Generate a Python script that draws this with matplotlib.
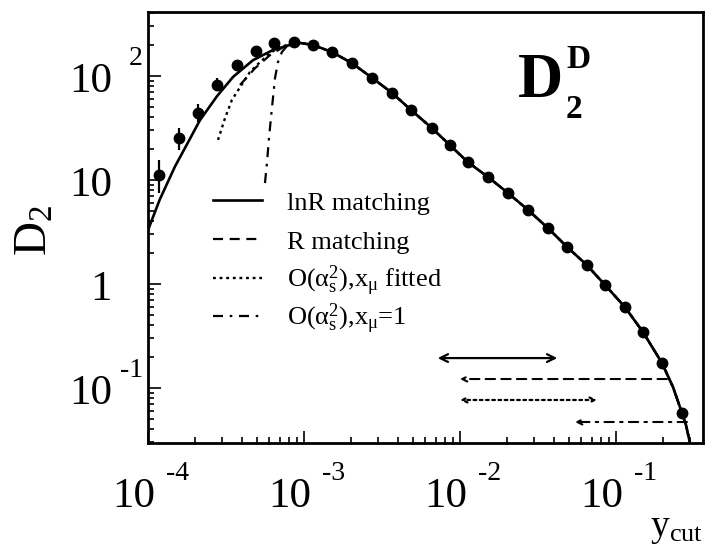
import numpy as np
import matplotlib
matplotlib.use("Agg")
import matplotlib.pyplot as plt
import matplotlib.transforms as mtransforms
from matplotlib.legend import Legend

plt.rcParams['font.family'] = ['Liberation Serif', 'DejaVu Serif']
plt.rcParams['mathtext.fontset'] = 'custom'
plt.rcParams['mathtext.rm'] = 'Liberation Serif'
plt.rcParams['mathtext.it'] = 'Liberation Serif:italic'
plt.rcParams['mathtext.bf'] = 'Liberation Serif:bold'

# ---------------- data ----------------
data_x = [1.17e-4, 1.58e-4, 2.09e-4, 2.77e-4, 3.7e-4, 4.9e-4, 6.4e-4, 8.6e-4,
          1.14e-3, 1.51e-3, 2.03e-3, 2.73e-3, 3.66e-3, 4.86e-3, 6.6e-3, 8.6e-3,
          1.12e-2, 1.51e-2, 2.03e-2, 2.73e-2, 3.66e-2, 4.86e-2, 6.5e-2, 8.5e-2,
          0.114, 0.149, 0.197, 0.265]
data_y = [11.2, 25.3, 44.0, 82.0, 128.0, 174.0, 207.0, 212.0,
          199.0, 170.0, 133.0, 96.0, 69.0, 47.0, 31.6, 21.7,
          14.9, 10.7, 7.5, 5.15, 3.45, 2.27, 1.52, 0.98,
          0.60, 0.345, 0.174, 0.0575]
data_ylo = [7.5, 19.4, 36.0, 71.0, 115.0, 165.0, 200.0, 206.0,
            194.0, 166.0, 130.0, 94.0, 67.5, 46.0, 31.0, 21.3,
            14.6, 10.5, 7.35, 5.05, 3.38, 2.22, 1.49, 0.96,
            0.59, 0.338, 0.170, 0.056]
data_yhi = [15.5, 31.6, 54.0, 95.0, 141.0, 183.0, 214.0, 218.0,
            204.0, 174.0, 136.0, 98.0, 70.5, 48.0, 32.2, 22.1,
            15.2, 10.9, 7.65, 5.25, 3.52, 2.32, 1.55, 1.0,
            0.61, 0.352, 0.178, 0.059]

# common high-ycut part of all predictions
tail_x = [9.4e-4, 1.14e-3, 1.51e-3, 2.03e-3, 2.73e-3, 3.66e-3, 4.86e-3, 6.6e-3,
          8.6e-3, 1.12e-2, 1.51e-2, 2.03e-2, 2.73e-2, 3.66e-2, 4.86e-2, 6.5e-2,
          8.5e-2, 0.114, 0.149, 0.197, 0.232, 0.265, 0.281, 0.298]
tail_y = [208.0, 199.0, 170.0, 133.0, 96.0, 69.0, 47.0, 31.6,
          21.7, 14.9, 10.7, 7.5, 5.15, 3.45, 2.27, 1.52,
          0.98, 0.60, 0.345, 0.174, 0.102, 0.0575, 0.044, 0.0296]

lnr_x = [1.0e-4, 1.19e-4, 1.49e-4, 1.86e-4, 2.15e-4, 2.77e-4, 3.51e-4, 4.71e-4, 6.33e-4, 8.5e-4]
lnr_y = [3.3, 6.5, 13.5, 25.0, 37.5, 64.0, 98.0, 142.0, 178.0, 203.0]

r_x = [3.89e-4, 4.86e-4, 6.06e-4, 7.54e-4]
r_y = [82.0, 119.0, 159.0, 194.0]

fit_x = [2.81e-4, 3.12e-4, 3.45e-4, 3.89e-4, 4.5e-4, 5.22e-4, 6.06e-4, 7.0e-4, 8.4e-4]
fit_y = [24.3, 39.5, 58.8, 78.0, 109.0, 136.0, 166.0, 190.0, 205.0]

one_x = [5.62e-4, 5.79e-4, 5.97e-4, 6.24e-4, 6.52e-4, 6.81e-4, 7.22e-4, 7.88e-4]
one_y = [9.35, 14.6, 25.9, 50.4, 95.7, 136.0, 170.0, 199.0]

# fit ranges (arrows)
range_lo = [7.2e-3, 1.0e-2, 1.0e-2, 5.46e-2]
range_hi = [4.2e-2, 0.212, 0.0755, 0.285]
range_y = [0.194, 0.122, 0.0767, 0.0471]

labels = ["lnR matching", "R matching",
          r"O($\mathrm{\alpha_s^2}$),x$_\mathrm{\mu}$ fitted",
          r"O($\mathrm{\alpha_s^2}$),x$_\mathrm{\mu}$=1"]

xtick_vals = [1e-4, 1e-3, 1e-2, 1e-1]
xtick_exp = ["-4", "-3", "-2", "-1"]
ytick_vals = [1e-1, 1.0, 10.0, 1e2]
ytick_base = ["10", "1", "10", "10"]
ytick_exp = ["-1", "", "", "2"]

# ---------------- figure ----------------
W, H = 714, 554
fig = plt.figure(figsize=(W / 100, H / 100), dpi=100)
ax = fig.add_axes([148 / W, 111 / H, 555 / W, 431 / H])
ax.set_xscale('log')
ax.set_yscale('log')
ax.set_xlim(1e-4, 10 ** (-4 + 555 / 156))
ax.set_ylim(10 ** (2 - 367 / 104), 10 ** (2 + 64 / 104))

styles = [dict(ls='-', lw=1.9),
          dict(ls=(0, (4.5, 3)), lw=1.6),
          dict(ls=(0, (1.2, 1.6)), lw=1.7),
          dict(ls=(0, (4.5, 3, 1.2, 3)), lw=1.6)]

heads = [(lnr_x, lnr_y), (r_x, r_y), (fit_x, fit_y), (one_x, one_y)]
handles = []
for (hx, hy), st, lab in zip(heads, styles, labels):
    xs = list(hx) + [x for x in tail_x if x > hx[-1]]
    ys = list(hy) + [y for x, y in zip(tail_x, tail_y) if x > hx[-1]]
    ln, = ax.plot(xs, ys, color='black', **st, label=lab)
    handles.append(ln)

dy = np.array(data_y)
ax.errorbar(data_x, data_y,
            yerr=[dy - np.array(data_ylo), np.array(data_yhi) - dy],
            fmt='o', color='black', ms=7.5, elinewidth=1.6, capsize=0, zorder=5)

# fit-range arrows
arrow_styles = [dict(arrowstyle='<->', ls='-', lw=1.6, mutation_scale=14),
                dict(arrowstyle='->', ls=(0, (4.5, 3)), lw=1.5, mutation_scale=9),
                dict(arrowstyle='<->', ls=(0, (1.2, 1.6)), lw=1.6, mutation_scale=9),
                dict(arrowstyle='->', ls=(0, (4.5, 3, 1.2, 3)), lw=1.5, mutation_scale=9)]
for lo, hi, yv, st in zip(range_lo, range_hi, range_y, arrow_styles):
    ax.annotate('', xy=(lo, yv), xytext=(hi, yv),
                arrowprops=dict(color='black', shrinkA=0, shrinkB=0, **st))

# axes styling
for sp in ax.spines.values():
    sp.set_linewidth(2.0)
ax.tick_params(which='both', direction='in', top=False, right=False,
               labelbottom=False, labelleft=False, width=1.2)
ax.tick_params(which='major', length=9)
ax.tick_params(which='minor', length=4.5)

# tick labels
tx = ax.get_xaxis_transform()
for v, e in zip(xtick_vals, xtick_exp):
    ax.text(v, 0, "10", transform=mtransforms.offset_copy(tx, fig=fig, x=7, y=-64, units='dots'),
            ha='right', va='baseline', fontsize=31)
    ax.text(v, 0, e, transform=mtransforms.offset_copy(tx, fig=fig, x=18, y=-37, units='dots'),
            ha='left', va='baseline', fontsize=20)
ty = ax.get_yaxis_transform()
for v, b, e in zip(ytick_vals, ytick_base, ytick_exp):
    ax.text(0, v, b, transform=mtransforms.offset_copy(ty, fig=fig, x=-36, y=-16, units='dots'),
            ha='right', va='baseline', fontsize=31)
    if e:
        ax.text(0, v, e, transform=mtransforms.offset_copy(ty, fig=fig, x=-5, y=11, units='dots'),
                ha='right', va='baseline', fontsize=20)

# legend: one entry per row so that rows are evenly spaced
row_px = [203, 242, 281, 319]
for h, lab, rp in zip(handles, labels, row_px):
    leg = Legend(ax, [h], [lab], loc='center left',
                 bbox_to_anchor=((213 - 148) / 555, (443 - rp) / 431),
                 frameon=False, fontsize=19, handlelength=1.85, handletextpad=0.95,
                 borderpad=0, borderaxespad=0)
    ax.add_artist(leg)

# axis titles and panel label
fig.text(35 / W, 1 - 230 / H, r"D$_2$", rotation=90, ha='center', va='center', fontsize=34)
fig.text(650 / W, 1 - 536 / H, r"y$_\mathrm{cut}$", ha='left', va='baseline', fontsize=27)
fig.text(518 / W, 1 - 97 / H, "D", ha='left', va='baseline', fontsize=45, fontweight='bold')
fig.text(566 / W, 1 - 68 / H, "D", ha='left', va='baseline', fontsize=24, fontweight='bold')
fig.text(566 / W, 1 - 118 / H, "2", ha='left', va='baseline', fontsize=24, fontweight='bold')

fig.savefig("out.png", dpi=100, facecolor='white')
